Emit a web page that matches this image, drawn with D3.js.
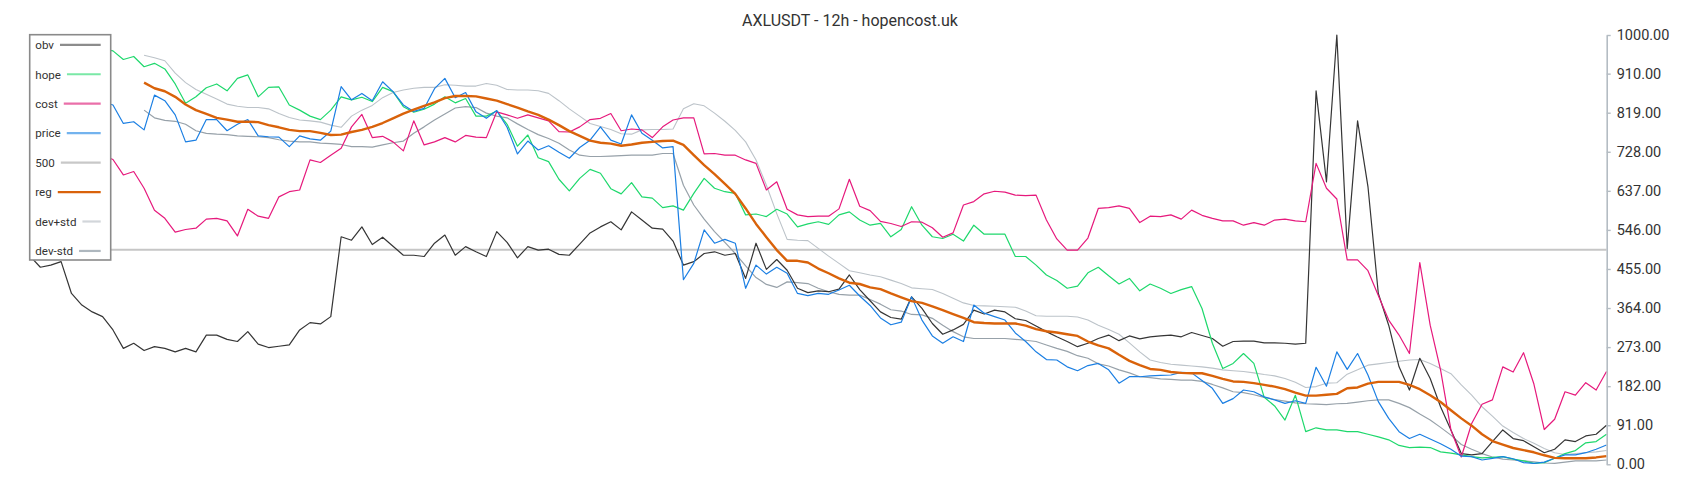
<!DOCTYPE html>
<html><head><meta charset="utf-8">
<script src="https://cdn.jsdelivr.net/npm/d3@7"></script>
<style>body{margin:0;background:#fff;} svg{display:block;font-family:Roboto,"Noto Sans",sans-serif;}</style>
</head><body><svg id="c" width="1700" height="500"></svg>
<script>
const title = "AXLUSDT - 12h - hopencost.uk";
const tickValues = [0,91,182,273,364,455,546,637,728,819,910,1000];
const level500 = 500;
const legendNames = ["obv","hope","cost","price","500","reg","dev+std","dev-std"];

const obv = [485,459,464,472,398,371,355,344,313,270,
282,265,274,270,262,270,262,301,301,291,
286,309,280,272,275,278,313,330,327,344,
530,522,553,512,529,508,487,487,484,515,
534,487,507,495,484,542,517,481,507,499,
501,489,487,513,539,553,565,546,588,569,
550,548,520,464,472,491,495,487,491,433,
515,454,477,452,410,400,404,402,408,441,
407,381,355,342,338,390,363,328,303,313,
326,359,350,359,355,339,335,322,309,297,
286,274,282,293,301,288,299,292,297,299,
301,297,307,300,293,275,286,287,287,283,
283,282,280,282,870,658,1000,503,800,647,
398,324,227,173,247,200,134,80,25,22,
25,53,80,60,55,41,27,35,57,53,
66,70,91];

const hope = [975,985,960,970,980,965,975,968,963,943,
950,926,934,921,886,841,856,877,886,870,
899,907,856,878,879,837,825,811,803,825,
856,849,855,845,878,868,833,820,827,839,
856,842,852,811,811,823,792,741,767,714,
705,664,637,666,687,678,642,630,656,623,
620,598,602,592,631,666,643,635,631,581,
583,577,594,583,553,560,565,559,581,588,
569,557,561,530,547,600,557,530,526,536,
520,557,536,536,536,484,484,464,441,428,
410,415,446,459,439,420,433,404,420,410,
398,407,414,363,282,223,235,258,235,156,
136,103,161,76,85,80,80,76,76,70,
64,57,44,39,40,39,29,26,22,18,
15,16,18,12,8,2,4,14,25,32,
50,53,70];

const cost = [760,745,750,735,740,730,725,720,710,674,
682,643,592,573,541,547,550,571,573,567,
532,594,578,573,623,635,639,709,703,720,
736,786,815,761,764,751,730,800,744,751,
761,751,766,762,761,821,814,806,814,807,
800,775,774,786,803,806,817,777,781,779,
761,786,802,807,807,723,724,720,720,709,
701,639,658,594,581,577,578,578,595,664,
601,591,566,561,554,565,564,551,529,539,
604,612,630,636,634,627,626,627,569,525,
499,499,527,596,598,602,596,563,578,577,
581,571,592,580,573,567,567,557,563,557,
569,571,567,565,701,643,618,476,476,451,
393,336,301,258,470,324,220,80,17,95,
140,150,227,215,260,187,81,105,169,161,
190,173,216];

const price = [850,860,835,845,820,830,840,845,837,794,
798,779,860,847,814,751,755,803,803,777,
792,803,765,763,762,740,765,758,755,776,
880,849,864,847,891,868,837,822,829,875,
899,854,866,821,806,824,785,723,753,732,
742,727,713,738,755,786,755,746,814,771,
755,737,740,430,468,546,515,524,515,410,
464,443,459,445,398,393,398,396,406,417,
392,370,341,325,331,390,336,299,282,297,
286,371,352,344,336,306,286,262,244,243,
227,218,230,235,220,189,204,204,206,207,
208,214,213,195,177,142,153,173,169,157,
150,142,148,142,226,182,262,221,258,208,
146,107,76,60,70,59,48,35,19,18,
10,14,18,13,4,2,5,14,22,22,
27,35,45];

const reg = [null,null,null,null,null,null,null,null,null,null,
null,889,876,869,856,838,825,816,807,803,
798,798,797,790,785,779,776,776,772,767,
768,774,779,786,795,806,817,826,835,843,
853,858,858,857,852,847,839,831,822,814,
803,790,776,765,754,749,747,742,745,749,
751,753,754,744,720,697,676,653,630,596,
560,529,499,474,474,470,456,445,433,423,
420,412,408,398,389,380,376,368,359,350,
341,331,329,328,328,328,323,315,310,307,
303,299,286,277,270,255,241,231,222,220,
215,213,212,212,206,199,193,192,189,185,
181,175,167,160,160,162,164,177,179,188,
192,192,192,185,175,161,145,126,107,90,
70,54,46,38,33,28,21,15,14,14,
14,16,19];

const devPlus = [null,null,null,null,null,null,null,null,null,null,
null,953,947,940,911,889,873,862,851,839,
834,831,831,828,817,808,802,800,797,790,
785,811,825,836,854,866,872,876,878,878,
884,883,881,881,887,883,873,872,872,870,
864,847,828,811,794,787,780,770,769,779,
780,780,781,828,840,835,818,799,778,751,
709,650,584,524,522,521,503,485,468,451,
446,441,437,429,421,411,409,407,398,387,
376,370,369,368,367,366,357,346,345,345,
345,343,336,324,314,303,283,262,243,237,
233,231,229,227,224,220,218,216,213,209,
206,200,191,179,181,189,190,210,220,231,
234,237,240,243,244,235,223,211,185,161,
134,112,89,74,60,49,37,27,23,25,
27,29,32];

const devMinus = [null,null,null,null,null,null,null,null,null,null,
null,825,807,801,799,792,777,771,769,768,
765,764,763,761,756,753,751,751,748,747,
745,740,740,739,744,749,753,771,786,802,
816,830,833,831,818,811,807,793,780,768,
759,748,732,720,717,717,718,719,720,720,
720,724,724,650,604,571,542,517,491,462,
435,419,412,425,423,421,410,402,396,394,
394,384,373,360,357,349,348,340,324,309,
297,293,293,293,293,291,289,286,278,270,
263,253,247,234,229,220,213,204,202,199,
198,196,196,193,186,178,169,167,162,156,
151,147,143,141,140,139,141,142,145,148,
150,150,142,132,117,103,86,68,46,35,
25,17,12,10,8,6,3,2,5,8,
8,8,10];

const svg = d3.select("#c");
const N = obv.length;
const x = d3.scaleLinear().domain([0, N - 1]).range([30, 1606.5]);
const y = d3.scaleLinear().domain([0, 1000]).range([464.3, 35]);

svg.append("text").attr("x", 850).attr("y", 25.5).attr("text-anchor", "middle")
  .attr("font-size", 16).attr("fill", "#333").text(title);

// 500 level
svg.append("line").attr("x1", x(0)).attr("x2", x(N - 1))
  .attr("y1", y(level500)).attr("y2", y(level500))
  .attr("stroke", "#c6c6c6").attr("stroke-width", 2);

const series = [
  {name: "dev+std", data: devPlus, color: "#bcc3c9", w: 1.1},
  {name: "dev-std", data: devMinus, color: "#97a1a9", w: 1.2},
  {name: "obv", data: obv, color: "#353535", w: 1.2},
  {name: "hope", data: hope, color: "#1ed86c", w: 1.2},
  {name: "cost", data: cost, color: "#e6197c", w: 1.2},
  {name: "price", data: price, color: "#1b7fe3", w: 1.2},
  {name: "reg", data: reg, color: "#d9620a", w: 2.4}
];
const line = d3.line().defined(d => d != null).x((d, i) => x(i)).y(d => y(d));
series.forEach(s => {
  svg.append("path").datum(s.data).attr("d", line)
    .attr("fill", "none").attr("stroke", s.color).attr("stroke-width", s.w)
    .attr("stroke-linejoin", "round");
});

// axis
const axis = d3.axisRight(y).tickValues(tickValues).tickFormat(d3.format(".2f")).tickSize(4).tickSizeOuter(0).tickPadding(6);
const ag = svg.append("g").attr("transform", "translate(1606.7,0)").call(axis);
ag.select(".domain").attr("stroke", "#b4bcc3").attr("stroke-width", 1.6);
ag.selectAll(".tick line").attr("stroke", "#b4bcc3").attr("stroke-width", 1.4);
ag.selectAll(".tick text").attr("fill", "#333").attr("font-size", 14.5).attr("font-family", "Roboto, sans-serif");

// legend
const legendColors = ["#8c8c8c","#7ae8a6","#ea6fa9","#73b3ee","#c8c8c8","#d9620a","#d2d6da","#aeb7be"];
const lg = svg.append("g");
lg.append("rect").attr("x", 29.7).attr("y", 34.7).attr("width", 81).attr("height", 225.3)
  .attr("fill", "#fff").attr("stroke", "#8a8a8a").attr("stroke-width", 1.6);
legendNames.forEach((n, k) => {
  const cy = 44.8 + k * 29.45;
  const t = lg.append("text").attr("x", 35.3).attr("y", cy + 4.3).attr("font-size", 11.6).attr("fill", "#333").text(n);
  const tw = t.node().getComputedTextLength();
  lg.append("line").attr("x1", 35.3 + tw + 6).attr("x2", 100.7).attr("y1", cy).attr("y2", cy)
    .attr("stroke", legendColors[k]).attr("stroke-width", 2.2);
});
</script></body></html>
